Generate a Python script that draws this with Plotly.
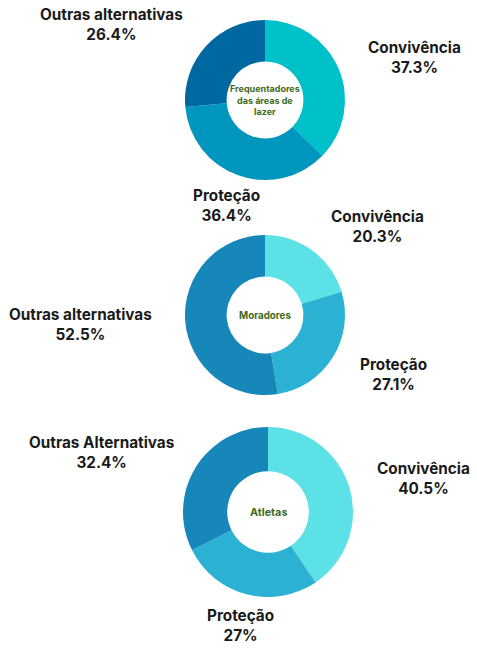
import plotly.graph_objects as go

W, H = 477, 650

# data
groups = ['Frequentadores<br>das áreas de<br>lazer', 'Moradores', 'Atletas']
labels_1 = ['Convivência', 'Proteção', 'Outras alternativas']
labels_2 = ['Convivência', 'Proteção', 'Outras alternativas']
labels_3 = ['Convivência', 'Proteção', 'Outras Alternativas']
values_1 = [37.3, 36.4, 26.4]
values_2 = [20.3, 27.1, 52.5]
values_3 = [40.5, 27.0, 32.4]

colors_1 = ['#00C0C9', '#0096BD', '#0068A0']
colors_2 = ['#5CE1E6', '#2BB1D3', '#1786B8']

# pie placement in pixels: center x, center y, radius
pies = [(265, 100, 80), (265, 315, 80), (268, 512, 85)]
center_sizes = [9, 9.8, 10.8]
# label placement in pixels (centre of the two-line block), per slice
label_pos = [
    [(414, 57), (226, 206), (111, 24)],
    [(377, 226), (393, 375), (80, 324)],
    [(423, 478), (240, 625), (101, 452)],
]

fig = go.Figure()

series = [(labels_1, values_1, colors_1), (labels_2, values_2, colors_2), (labels_3, values_3, colors_2)]

for i, (labs, vals, cols) in enumerate(series):
    cx, cy, r = pies[i]
    fig.add_trace(go.Pie(
        labels=labs,
        values=vals,
        marker=dict(colors=cols, line=dict(width=0)),
        hole=0.48,
        sort=False,
        direction='clockwise',
        rotation=0,
        textinfo='none',
        showlegend=False,
        domain=dict(x=[(cx - r) / W, (cx + r) / W], y=[1 - (cy + r) / H, 1 - (cy - r) / H]),
    ))
    fig.add_annotation(
        x=cx / W, y=1 - cy / H, xref='paper', yref='paper',
        xanchor='center', yanchor='middle',
        text='<b>' + groups[i] + '</b>', showarrow=False,
        font=dict(family='Inter', size=center_sizes[i], color='#3F6A22'),
    )
    for j in range(len(labs)):
        px, py = label_pos[i][j]
        fig.add_annotation(
            x=px / W, y=1 - py / H, xref='paper', yref='paper',
            xanchor='center', yanchor='middle',
            text='<b>%s<br>%s%%</b>' % (labs[j], format(vals[j], 'g')),
            showarrow=False, align='center',
            font=dict(family='Inter', size=15.3, color='#1A1A1A'),
        )

fig.update_layout(
    width=W, height=H,
    margin=dict(l=0, r=0, t=0, b=0),
    paper_bgcolor='white',
    plot_bgcolor='white',
)

fig.write_html("out.html", config={'displayModeBar': False},
               post_script="document.body.style.margin='0';")
